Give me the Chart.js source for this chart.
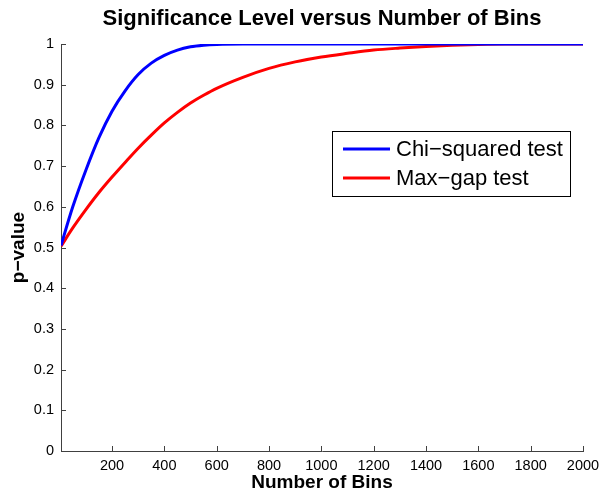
<!DOCTYPE html>
<html>
<head>
<meta charset="utf-8">
<script src="https://cdn.jsdelivr.net/npm/chart.js@4/dist/chart.umd.min.js"></script>
<style>
  html, body { margin: 0; background: #fff; }
  #wrap { width: 600px; height: 494px; }
</style>
</head>
<body>
<div id="wrap"><canvas id="chart"></canvas></div>
<script>
// values
const CHI_BINS = [5, 50, 100, 150, 200, 250, 300, 350, 400, 450, 500, 550, 600, 700, 800, 1000, 1500, 2000];
const CHI_P = [0.505, 0.60, 0.69, 0.77, 0.835, 0.885, 0.925, 0.953, 0.972, 0.985, 0.993, 0.997, 0.999, 1, 1, 1, 1, 1];

const GAP_BINS = [5, 50, 100, 150, 200, 250, 300, 350, 400, 450, 500, 550, 600, 700, 800, 900, 1000, 1100, 1200, 1300, 1400, 1500, 1600, 1700, 1800, 2000];
const GAP_P = [0.503, 0.548, 0.593, 0.635, 0.673, 0.709, 0.744, 0.776, 0.806, 0.832, 0.855, 0.874, 0.891, 0.918, 0.94, 0.956, 0.968, 0.977, 0.985, 0.99, 0.994, 0.997, 0.999, 1, 1, 1];

const X_TICKS = [200, 400, 600, 800, 1000, 1200, 1400, 1600, 1800, 2000];
const SERIES_LABELS = ["Chi\u2212squared test", "Max\u2212gap test"];

const FONT = "'Liberation Sans', Arial, Helvetica, sans-serif";
const AXIS = "#404040";

Chart.defaults.font.family = FONT;
Chart.defaults.color = "#000";

const toPoints = (xs, ys) => xs.map((x, i) => ({ x, y: ys[i] }));

// MATLAB style: ticks point into the plot, title on top, legend box inside
const matlabBits = {
    id: "matlabBits",
    afterDatasetsDraw(chart) {
        const { ctx, chartArea: a, scales } = chart;
        ctx.save();
        ctx.strokeStyle = AXIS;
        ctx.lineWidth = 1;
        ctx.beginPath();
        scales.x.ticks.forEach(t => {
            const px = Math.round(scales.x.getPixelForValue(t.value)) + 0.5;
            ctx.moveTo(px, a.bottom);
            ctx.lineTo(px, a.bottom - 5);
        });
        scales.y.ticks.forEach(t => {
            const py = Math.round(scales.y.getPixelForValue(t.value)) + 0.5;
            ctx.moveTo(a.left, py);
            ctx.lineTo(a.left + 5, py);
        });
        ctx.stroke();

        // title
        ctx.fillStyle = "#000";
        ctx.font = "bold 22px " + FONT;
        ctx.textAlign = "center";
        ctx.textBaseline = "middle";
        ctx.fillText("Significance Level versus Number of Bins", (a.left + a.right) / 2, 19);

        // legend
        const bx = 332.5, by = 131.5, bw = 238, bh = 65;
        ctx.fillStyle = "#fff";
        ctx.fillRect(bx, by, bw, bh);
        ctx.strokeStyle = "#000";
        ctx.strokeRect(bx, by, bw, bh);
        ctx.font = "22px " + FONT;
        ctx.textAlign = "left";
        chart.data.datasets.forEach((ds, i) => {
            const ly = 149 + i * 29;
            ctx.strokeStyle = ds.borderColor;
            ctx.lineWidth = 3;
            ctx.beginPath();
            ctx.moveTo(343, ly);
            ctx.lineTo(390, ly);
            ctx.stroke();
            ctx.fillStyle = "#000";
            ctx.fillText(ds.label, 396, ly + 1);
        });
        ctx.restore();
    }
};

new Chart(document.getElementById("chart"), {
    type: "line",
    data: {
        datasets: [
            {
                label: SERIES_LABELS[0],
                data: toPoints(CHI_BINS, CHI_P),
                borderColor: "#0000ff",
                borderWidth: 3,
                pointRadius: 0,
                cubicInterpolationMode: "monotone",
            },
            {
                label: SERIES_LABELS[1],
                data: toPoints(GAP_BINS, GAP_P),
                borderColor: "#ff0000",
                borderWidth: 3,
                pointRadius: 0,
                cubicInterpolationMode: "monotone",
            },
        ],
    },
    options: {
        responsive: true,
        maintainAspectRatio: false,
        animation: false,
        layout: { padding: { top: 44, right: 17, left: 0, bottom: 0 } },
        plugins: {
            legend: { display: false },
            tooltip: { enabled: false },
        },
        scales: {
            x: {
                type: "linear",
                min: 5,
                max: 2000,
                afterBuildTicks: s => { s.ticks = X_TICKS.map(v => ({ value: v })); },
                afterFit: s => { s.height = 43; s.paddingLeft = 0; s.paddingRight = 0; },
                grid: { drawOnChartArea: false, drawTicks: false },
                border: { color: AXIS, width: 1 },
                ticks: {
                    padding: 6, font: { size: 14.5 }, color: "#000", maxRotation: 0,
                    callback: v => String(v),
                },
                title: {
                    display: true,
                    text: "Number of Bins",
                    font: { size: 19, weight: "bold" },
                    padding: { top: 0, bottom: 0 },
                },
            },
            y: {
                min: 0,
                max: 1,
                afterFit: s => { s.width = 61; s.paddingTop = 0; s.paddingBottom = 0; },
                grid: { drawOnChartArea: false, drawTicks: false },
                border: { color: AXIS, width: 1 },
                ticks: {
                    stepSize: 0.1, padding: 7, font: { size: 14.5 }, color: "#000",
                    callback: v => String(Math.round(v * 10) / 10),
                },
                title: {
                    display: true,
                    text: "p\u2212value",
                    font: { size: 19, weight: "bold" },
                    padding: { top: 7, bottom: 0 },
                },
            },
        },
    },
    plugins: [matlabBits],
});
</script>
</body>
</html>
